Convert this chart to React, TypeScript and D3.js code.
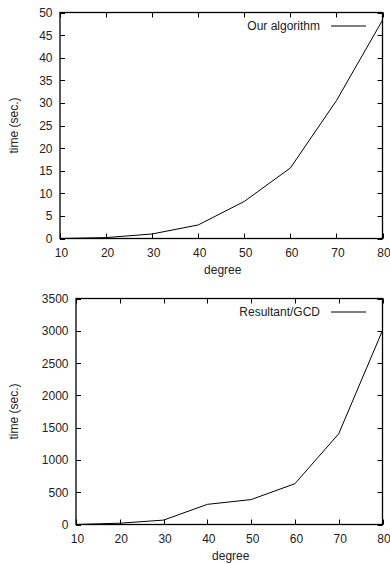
import React, { useEffect, useRef } from 'react';
import * as d3 from 'd3';

const degrees = [10, 20, 30, 40, 50, 60, 70, 80];
const ourAlgorithm = [0, 0.2, 1.0, 3.0, 8.2, 15.6, 30.5, 48.3];
const resultantGcd = [0, 20, 68, 312, 386, 632, 1405, 3005];

const xTicks = [10, 20, 30, 40, 50, 60, 70, 80];
const topYTicks = [0, 5, 10, 15, 20, 25, 30, 35, 40, 45, 50];
const bottomYTicks = [0, 500, 1000, 1500, 2000, 2500, 3000, 3500];

const FONT = 'Liberation Sans, Arial, Helvetica, sans-serif';
const FS = 12;

const drawPanel = (svg, opts) => {
    const { left, right, top, bottom, yMax, yTicks, values, label } = opts;
    const g = svg.append('g');

    const xScale = d3.scaleLinear().domain([10, 80]).range([left, right]);
    const yScale = d3.scaleLinear().domain([0, yMax]).range([bottom, top]);
    const tick = 5;

    // mirrored inward ticks
    xTicks.forEach(t => {
        const x = Math.round(xScale(t)) + 0.5;
        g.append('line').attr('x1', x).attr('x2', x).attr('y1', bottom).attr('y2', bottom - tick).attr('stroke', '#000');
        g.append('line').attr('x1', x).attr('x2', x).attr('y1', top).attr('y2', top + tick).attr('stroke', '#000');
        g.append('text')
            .attr('x', xScale(t) + 1.5)
            .attr('y', bottom + 18)
            .attr('text-anchor', 'middle')
            .attr('font-size', FS)
            .attr('font-family', FONT)
            .attr('fill', '#222')
            .text(t);
    });

    yTicks.forEach(t => {
        const y = Math.round(yScale(t)) + 0.5;
        g.append('line').attr('x1', left).attr('x2', left + tick).attr('y1', y).attr('y2', y).attr('stroke', '#000');
        g.append('line').attr('x1', right).attr('x2', right - tick).attr('y1', y).attr('y2', y).attr('stroke', '#000');
        g.append('text')
            .attr('x', left - 7.5)
            .attr('y', yScale(t) + 4.5)
            .attr('text-anchor', 'end')
            .attr('font-size', FS)
            .attr('font-family', FONT)
            .attr('fill', '#222')
            .text(t);
    });

    // frame
    g.append('rect')
        .attr('x', left)
        .attr('y', top)
        .attr('width', right - left)
        .attr('height', bottom - top)
        .attr('fill', 'none')
        .attr('stroke', '#000')
        .attr('stroke-width', 1.3);

    const line = d3.line()
        .x(d => xScale(d[0]))
        .y(d => yScale(d[1]));

    g.append('path')
        .datum(degrees.map((d, i) => [d, values[i]]))
        .attr('d', line)
        .attr('fill', 'none')
        .attr('stroke', '#000')
        .attr('stroke-width', 1);

    // legend
    const ly = top + 13;
    g.append('text')
        .attr('x', 320)
        .attr('y', ly + 4.5)
        .attr('text-anchor', 'end')
        .attr('font-size', FS)
        .attr('font-family', FONT)
        .attr('fill', '#222')
        .text(label);
    g.append('line').attr('x1', 331).attr('x2', 366).attr('y1', ly + 0.5).attr('y2', ly + 0.5).attr('stroke', '#000');

    // axis titles
    g.append('text')
        .attr('x', (left + right) / 2 + 1.5)
        .attr('y', bottom + 35)
        .attr('text-anchor', 'middle')
        .attr('font-size', FS)
        .attr('font-family', FONT)
        .attr('fill', '#222')
        .text('degree');

    const cy = (top + bottom) / 2;
    g.append('text')
        .attr('transform', `translate(18,${cy}) rotate(-90)`)
        .attr('text-anchor', 'middle')
        .attr('font-size', FS)
        .attr('font-family', FONT)
        .attr('fill', '#222')
        .text('time (sec.)');
};

const App = () => {
    const svgRef = useRef(null);

    useEffect(() => {
        const svg = d3.select(svgRef.current);
        svg.selectAll('*').remove();

        drawPanel(svg, {
            left: 60, right: 382.5, top: 12.5, bottom: 238.5,
            yMax: 50, yTicks: topYTicks, values: ourAlgorithm, label: 'Our algorithm'
        });

        drawPanel(svg, {
            left: 76, right: 382.5, top: 298.5, bottom: 524.5,
            yMax: 3500, yTicks: bottomYTicks, values: resultantGcd, label: 'Resultant/GCD'
        });
    }, []);

    return (
        <div style={{ position: 'absolute', left: 0, top: 0 }}>
            <svg ref={svgRef} width={390} height={564} style={{ display: 'block', background: '#fff' }}></svg>
        </div>
    );
};

export default App;
